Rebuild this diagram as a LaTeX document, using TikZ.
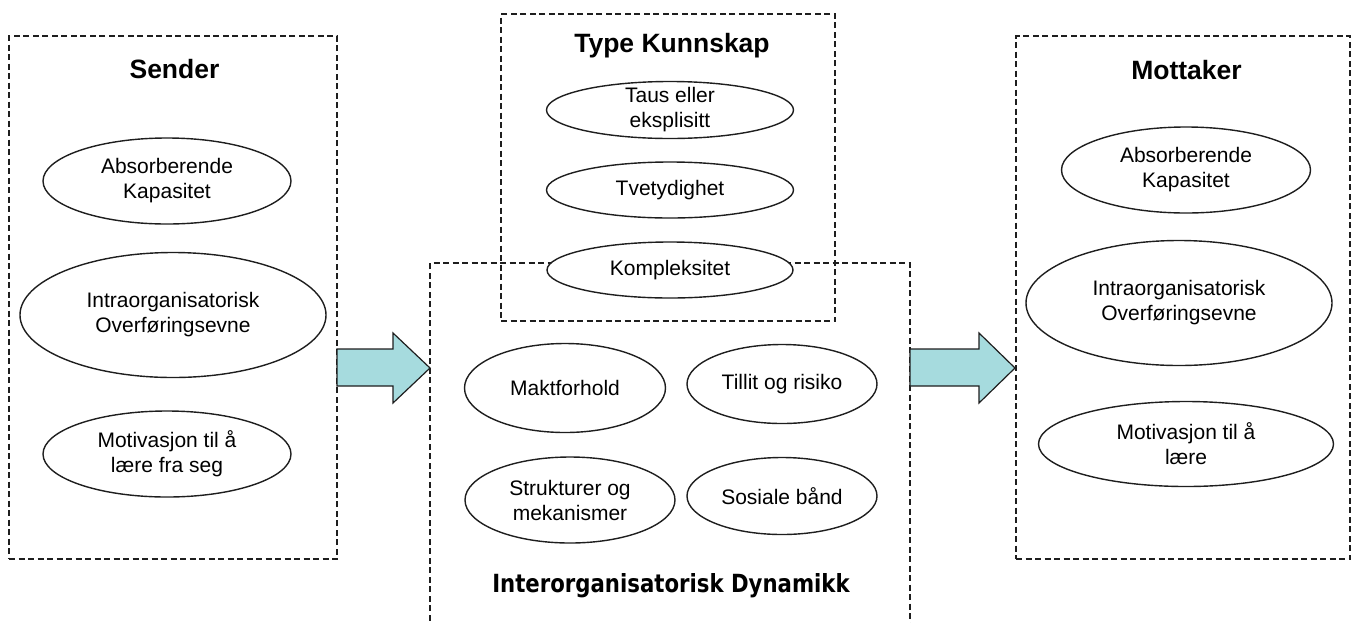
\documentclass[tikz,border=0pt]{standalone}
\usepackage{fontspec}
\setmainfont{Liberation Sans}
\newfontfamily\dynfont{DejaVu Sans}[FakeStretch=0.85]
\usetikzlibrary{shapes.geometric}
\definecolor{arrowfill}{RGB}{166,219,222}
\definecolor{ink}{RGB}{30,30,30}
\begin{document}
\begin{tikzpicture}[x=1pt,y=-1pt,
  group/.style={draw=ink, line width=1.2pt, dash pattern=on 6pt off 3.5pt, rectangle, inner sep=0pt},
  dashline/.style={draw=ink, line width=1.2pt, dash pattern=on 6pt off 3.5pt},
  item/.style={draw=ink, fill=white, ellipse, line width=1.4pt, inner xsep=0pt, inner ysep=-6pt,
    align=center, font=\fontsize{21}{25}\selectfont},
  heading/.style={font=\fontsize{26.5}{30}\selectfont\bfseries, anchor=base},
  blockarrow/.style={draw=ink, fill=arrowfill, line width=1.2pt, line join=miter}]
\useasboundingbox (0,0) rectangle (1357,622);

% outer groups
\node[group, minimum width=328, minimum height=523] (sender) at (173,297.5) {};
\node[group, minimum width=334, minimum height=523] (mottaker) at (1183,297.5) {};
\node[group, minimum width=334, minimum height=307] (kunnskap) at (668,167.5) {};

% open-bottomed frame for the interorganisational dynamics
\coordinate (dynBL) at (430,630);
\coordinate (dynTL) at (430,263);
\coordinate (dynTR) at (910,263);
\coordinate (dynBR) at (910,630);
\draw[dashline] (dynBL) -- (dynTL) -- (dynTR) -- (dynBR);

% headings
\node[heading] (senderTitle) at (174.5,78) {Sender};
\node[heading] (mottakerTitle) at (1186.5,79) {Mottaker};
\node[heading] (kunnskapTitle) at (672,52) {Type Kunnskap};
\node[font=\dynfont\fontsize{25}{30}\selectfont\bfseries, anchor=base] (dynTitle) at (671,592)
  {Interorganisatorisk Dynamikk};

% block arrows between the groups
\draw[blockarrow] (337,349) -- (393,349) -- (393,333) -- (430,368) -- (393,403) -- (393,386) -- (337,386) -- cycle;
\draw[blockarrow] (910,349) -- (979,349) -- (979,333) -- (1015,368) -- (979,403) -- (979,386) -- (910,386) -- cycle;

% sender factors
\node[item, minimum width=248, minimum height=86] (sAbs) at (167,181) {Absorberende\\Kapasitet};
\node[item, minimum width=306, minimum height=125] (sIntra) at (173,315) {Intraorganisatorisk\\Overføringsevne};
\node[item, minimum width=248, minimum height=86] (sMot) at (167,454) {Motivasjon til å\\lære fra seg};

% knowledge type
\node[item, minimum width=247, minimum height=57] (kTaus) at (670,110) {Taus eller\\eksplisitt};
\node[item, minimum width=247, minimum height=56] (kTvet) at (670,190) {Tvetydighet};
\node[item, minimum width=246, minimum height=56] (kKomp) at (670,270) {Kompleksitet};

% interorganisational dynamics
\node[item, minimum width=201, minimum height=89] (dMakt) at (565,388) {Maktforhold};
\node[item, minimum width=190, minimum height=79] (dTillit) at (782,384) {Tillit og risiko};
\node[item, minimum width=210, minimum height=86] (dStrukt) at (570,500) {Strukturer og\\mekanismer};
\node[item, minimum width=190, minimum height=77] (dSosial) at (782,496) {Sosiale bånd};

% receiver factors
\node[item, minimum width=249, minimum height=86] (mAbs) at (1186,170) {Absorberende\\Kapasitet};
\node[item, minimum width=306, minimum height=125] (mIntra) at (1179,303) {Intraorganisatorisk\\Overføringsevne};
\node[item, minimum width=295, minimum height=85] (mMot) at (1186,444) {Motivasjon til å\\lære};
\end{tikzpicture}
\end{document}
